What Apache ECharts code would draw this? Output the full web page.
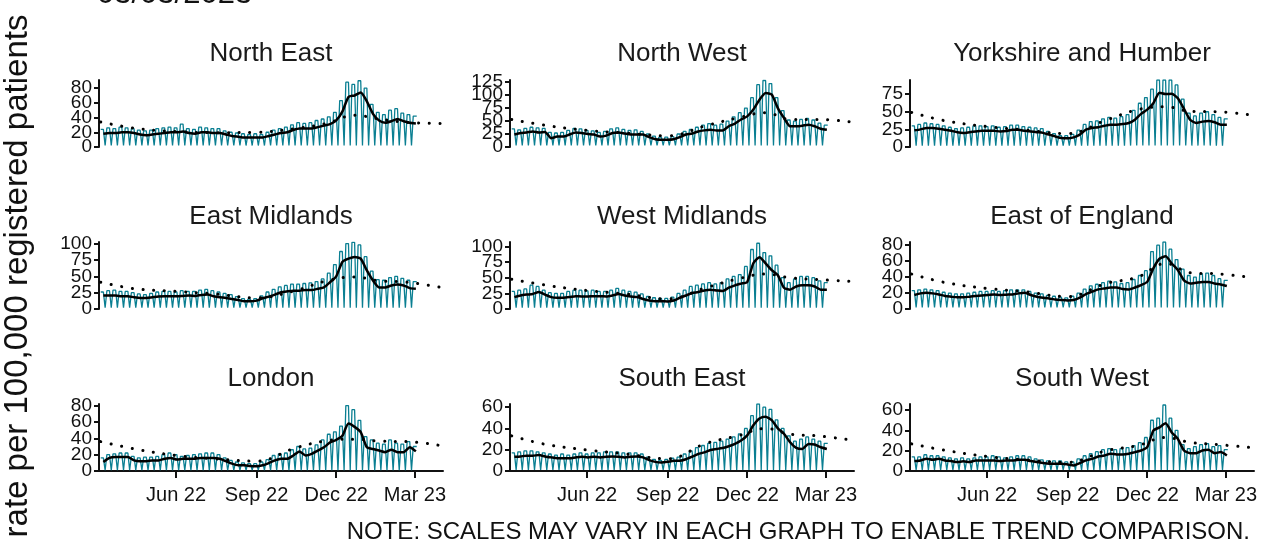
<!DOCTYPE html>
<html lang="en">
<head>
<meta charset="utf-8">
<title>rate per 100,000 registered patients</title>
<script src="https://cdn.jsdelivr.net/npm/echarts@6/dist/echarts.min.js"></script>
<style>
    html, body { margin: 0; padding: 0; background: #fff; }
    #main { width: 1262px; height: 542px; }
</style>
</head>
<body>
<div id="main"></div>

<script type="text/javascript">
    // panel order: left to right, top to bottom
    var regions = ['North East', 'North West', 'Yorkshire and Humber',
        'East Midlands', 'West Midlands', 'East of England',
        'London', 'South East', 'South West'];

    // weekday rate for each week (weeks start Mon 7 Mar 2022), weekend days sit near zero
    var neWeekday = [24,26,25,27,26,25, 23,22,23,25,26,27, 26,31,25,24,27,26, 25,25,22,20,19,18, 17,18,17,20,23,25, 27,30,33,32,33,36, 38,41,47,63,88,85, 90,80,58,47,44,50, 52,46,44,42];
    var nwWeekday = [35,33,36,38,37,36, 28,27,28,32,36,35, 32,31,28,30,35,37, 34,32,33,30,25,21, 19,19,20,25,30,34, 38,42,45,42,44,50, 58,66,75,95,120,128, 122,95,70,52,50,53, 55,52,46,42];
    var yhWeekday = [30,32,34,33,32,30, 28,26,27,28,30,30, 29,30,28,29,31,31, 29,28,27,26,22,19, 16,16,18,24,32,36, 37,40,42,41,43,46, 52,62,70,82,95,95, 95,88,68,48,44,48, 50,46,42,40];
    var emWeekday = [26,28,29,27,27,25, 23,22,24,26,27,27, 26,28,27,27,29,30, 28,26,24,22,19,16, 15,16,20,26,30,34, 36,38,38,39,40,42, 46,55,68,88,100,102, 98,80,58,45,44,48, 50,47,44,42];
    var wmWeekday = [28,30,32,38,36,30, 26,25,25,28,30,30, 29,30,28,28,30,33, 30,28,27,24,20,18, 17,17,19,25,30,36, 38,40,42,40,42,48, 52,55,68,95,105,90, 85,70,50,42,48,52, 52,50,45,42];
    var eeWeekday = [23,24,25,24,23,21, 20,19,19,20,21,22, 22,23,22,23,24,24, 24,22,20,19,17,16, 15,14,16,20,25,29, 31,33,35,34,32,33, 37,42,48,72,80,84, 75,62,50,42,40,44, 45,42,38,36];
    var lnWeekday = [16,20,21,22,22,18, 16,17,17,18,20,22, 20,18,19,20,21,22, 22,20,16,13,11,10, 9,9,11,14,19,21, 22,26,30,27,28,32, 38,45,48,55,80,75, 62,42,38,34,33,38, 34,33,36,30];
    var seWeekday = [17,18,19,19,18,17, 16,15,16,15,16,17, 16,17,17,18,18,18, 17,17,17,16,13,11, 10,11,12,13,16,19, 22,24,26,27,28,30, 32,35,40,52,63,60, 58,48,40,33,28,30, 32,30,28,26];
    var swWeekday = [14,14,16,15,15,14, 13,12,13,12,13,14, 14,15,14,13,14,15, 15,14,12,11,10,10, 10,9,9,12,15,17, 19,21,22,21,22,23, 25,28,33,50,52,65, 52,40,26,22,24,26, 27,24,25,21];
    var weekendRates = [2, 3, 2, 2, 2, 2, 1, 1, 1];

    // 7 day average, one value per week
    var neAverage = [18,19,19,20,20,19, 17,16,17,18,19,20, 20,21,19,18,20,20, 19,19,17,15,14,13, 13,13,13,15,17,19, 20,23,25,25,25,27, 29,31,36,48,68,70, 74,62,45,36,33,35, 38,35,33,32];
    var nwAverage = [24,27,28,30,28,29, 17,20,20,24,28,27, 25,24,20,22,27,28, 26,24,24,24,19,15, 14,14,15,19,24,26, 30,32,33,32,32,40, 45,53,59,72,91,104, 101,75,56,40,40,41, 43,40,35,33];
    var yhAverage = [23.6,25,27,27,26,24.5, 23,21,20,21,22,23, 23,23,22,22.6,24.5,24.5, 23,22,21,20,17.5,15, 12.7,12.3,13.7,17.5,24.5,27, 28,30,31.6,31.6,32.5,34, 38.7,47,53,62,77,75, 75.5,69,54,38.7,34,36, 37,35,31.6,31.6];
    var emAverage = [20.5,20.5,20.5,19.5,19.5,18, 17,17,18,19,19.5,19.5, 19.5,20,20.5,20,21.5,22, 19.5,18,17,15.4,13.8,11.8, 11.8,12.8,16.4,19,22,25.6, 27,28,28,29,29,31, 33,41,50,72,77,79.5, 77,59,43.6,33,33,36, 37.4,36,32,31];
    var wmAverage = [19,21.6,23,24,27,23, 19,18,18,19,20.5,20, 20,20.5,20.5,20,21.6,24, 21.6,20,19,16,13.5,12.4, 12.4,12,13.5,18,21.6,25.4, 27,29.7,30.8,29.7,28.6,34, 37.8,40.5,43,73,82.7,73, 62,54,34,30.8,36,37.8, 37.8,36,30.8,30.8];
    var eeAverage = [17.5,19.6,20.4,19.6,18.3,16.3, 15.4,14.6,14.6,15.4,16.3,17, 17.5,18.3,17.5,18,18.3,19.6, 20.4,17.5,15.4,14.2,13.3,12, 11.3,10.8,11.3,14.2,18.8,21.7, 24.6,25.8,27,27,25,24.6, 27,30,34,51,63,66, 57,48.8,36,32,33,34, 34,32,30.8,28.8];
    var lnAverage = [11,16,17,17,17,13, 12,12,13,13,15,16, 14,15,15,15,16,16, 16,15,12,9,7,7, 6,5.7,7,9.7,13,15, 15,19,24,19,21,25, 29,35,38,43,58,54, 47.5,29,27,25,23,26, 23,23,29,24];
    var seAverage = [13.4,13.7,14.4,14.4,15,13.7, 12.8,12,12,12,12.8,13.4, 12.8,13.4,12.8,13.4,13.7,13.4, 12.8,13.4,13.7,12.8,10.2,8.6, 8,8.6,9.6,9.6,11,13.4, 16,17.5,19.8,20.7,21.7,23.3, 25.5,28.7,33.5,43,49.4,51, 47.8,40,35,27,21.7,20.7, 25.5,24.9,22.3,20.7];
    var swAverage = [9.8,10.4,12,11,12,10.4, 9.8,8.8,9.5,8.8,10.4,10.4, 10.4,10.4,9.8,10.4,10.4,11, 11,9.8,8.8,7.8,7.2,7.2, 7.2,6.5,5.5,7.8,10.4,12, 14.3,15.3,17,16.3,16.3,17, 18.6,20.2,23.5,39.8,43,47, 38,31.6,20.2,17.6,17.6,20.2, 20.9,17.6,18.6,15.3];

    // dotted trend line
    var trendDates = ['2022-03-07','2022-04-15','2022-06-01','2022-07-15','2022-09-01','2022-10-15','2022-11-20','2022-12-22','2023-01-20','2023-02-20','2023-03-31'];
    var neTrend = [34, 25.5, 21, 19.5, 20, 25, 32, 43, 38, 33.5, 32];
    var nwTrend = [53, 41.5, 32, 27, 21.5, 41, 56, 66, 53, 53, 48];
    var yhTrend = [49, 37, 29, 24, 19, 38, 53, 57, 50.5, 50, 45];
    var emTrend = [41, 31, 27, 23, 17, 28, 43, 49, 43, 41, 33];
    var wmTrend = [47.6, 38, 29.5, 24, 16, 34, 48, 56, 49.7, 47, 44];
    var eeTrend = [43.8, 33, 25.8, 21.7, 15.5, 32, 40, 57, 45.4, 44, 39.5];
    var lnTrend = [36, 27, 19, 15, 12, 28, 37, 39, 36.5, 36, 31];
    var seTrend = [33, 25, 19.8, 16, 11.5, 26, 33, 40, 34.5, 33, 29];
    var swTrend = [26.7, 20.2, 14.3, 11, 8.5, 20, 25, 33, 28, 26, 23];

    // axis ticks
    var yTicks = [[0,20,40,60,80], [0,25,50,75,100,125], [0,25,50,75],
        [0,25,50,75,100], [0,25,50,75,100], [0,20,40,60,80],
        [0,20,40,60,80], [0,20,40,60], [0,20,40,60]];
    var yMax = [91, 129, 95, 102.5, 107, 84, 82, 63, 66];
    var xTickDates = ['2022-06-01', '2022-09-01', '2022-12-01', '2023-03-01'];
    var monthNames = ['Jan','Feb','Mar','Apr','May','Jun','Jul','Aug','Sep','Oct','Nov','Dec'];

    var weekdays = [neWeekday, nwWeekday, yhWeekday, emWeekday, wmWeekday, eeWeekday, lnWeekday, seWeekday, swWeekday];
    var averages = [neAverage, nwAverage, yhAverage, emAverage, wmAverage, eeAverage, lnAverage, seAverage, swAverage];
    var trends = [neTrend, nwTrend, yhTrend, emTrend, wmTrend, eeTrend, lnTrend, seTrend, swTrend];

    var DAY = 86400000;
    var start = Date.UTC(2022, 2, 7);
    function toTime(s) {
        var p = s.split('-');
        return Date.UTC(+p[0], +p[1] - 1, +p[2]);
    }

    function dailyPoints(weekday, weekend) {
        var pts = [];
        for (var w = 0; w < weekday.length; w++) {
            for (var d = 0; d < 7; d++) {
                if (w === weekday.length - 1 && d > 4) break;
                pts.push([start + (w * 7 + d) * DAY, d < 5 ? weekday[w] : weekend]);
            }
        }
        return pts;
    }

    var font = '"Liberation Sans", Arial, sans-serif';
    var teal = '#0a7f92';
    var ink = '#111';
    var colLeft = [99, 510, 910];
    var rowTop = [80, 242, 404];
    var panelW = 344, panelH = 67;
    var xMin = Date.UTC(2022, 2, 5), xMax = Date.UTC(2023, 3, 2);
    var xTickTimes = xTickDates.map(toTime);

    // the labels overlap in the original, so every other tick goes on a twin axis
    // (echarts would otherwise drop the crowded ones)
    function yAxisFor(i, part, withLine) {
        var vals = yTicks[i].filter(function (v, k) { return k % 2 === part; });
        return {
            gridIndex: i, type: 'value', min: 0, max: yMax[i], position: 'left',
            splitLine: {show: false},
            axisLine: {show: withLine, onZero: false, lineStyle: {color: ink, width: 2}},
            axisTick: {show: true, length: 5, lineStyle: {color: ink, width: 2}, customValues: vals},
            axisLabel: {fontSize: 19, fontFamily: font, color: ink, margin: 7, hideOverlap: false,
                showMinLabel: true, showMaxLabel: true, customValues: vals}
        };
    }

    var grids = [], xAxes = [], yAxes = [], series = [], graphics = [];

    for (var i = 0; i < regions.length; i++) {
        var col = i % 3, row = Math.floor(i / 3);
        var bottomRow = row === 2;
        grids.push({left: colLeft[col], top: rowTop[row], width: panelW, height: panelH, outerBoundsMode: 'none'});
        xAxes.push({
            gridIndex: i, type: 'value', min: xMin, max: xMax,
            splitLine: {show: false},
            axisLine: {show: bottomRow, onZero: false, lineStyle: {color: ink, width: 2}},
            axisTick: {show: bottomRow, length: 7, lineStyle: {color: ink, width: 2}, customValues: xTickTimes},
            axisLabel: {show: bottomRow, fontSize: 20, fontFamily: font, color: ink, margin: 14,
                showMinLabel: true, showMaxLabel: true,
                customValues: xTickTimes,
                formatter: function (v) {
                    var d = new Date(v);
                    return monthNames[d.getUTCMonth()] + ' ' + String(d.getUTCFullYear()).slice(2);
                }}
        });
        yAxes.push(yAxisFor(i, 0, true));
        yAxes.push(yAxisFor(i, 1, false));
        var yi = i * 2;
        series.push({
            type: 'line', xAxisIndex: i, yAxisIndex: yi, silent: true, showSymbol: false, z: 1,
            data: dailyPoints(weekdays[i], weekendRates[i]),
            lineStyle: {color: teal, width: 1.3}
        });
        series.push({
            type: 'line', xAxisIndex: i, yAxisIndex: yi, silent: true, showSymbol: false, z: 2,
            smooth: 0.4,
            data: trendDates.map(function (d, k) { return [toTime(d), this[k]]; }, trends[i]),
            lineStyle: {color: '#000', width: 3, type: [0.1, 10.6], cap: 'round'}
        });
        series.push({
            type: 'line', xAxisIndex: i, yAxisIndex: yi, silent: true, showSymbol: false, z: 3,
            smooth: 0.2,
            data: averages[i].map(function (v, w) { return [start + (w * 7 + 3) * DAY, v]; }),
            lineStyle: {color: '#000', width: 2.5}
        });
        graphics.push({
            type: 'text', x: colLeft[col] + panelW / 2, y: [54, 216.5, 379][row],
            style: {text: regions[i], font: '26px ' + font, fill: '#1a1a1a', align: 'center', verticalAlign: 'middle'}
        });
    }

    graphics.push({
        type: 'text', x: 18, y: 276, rotation: Math.PI / 2,
        style: {text: 'rate per 100,000 registered patients', font: '33px ' + font, fill: ink,
            align: 'center', verticalAlign: 'middle'}
    });
    graphics.push({
        type: 'text', x: 97, y: -6,
        style: {text: '03/03/2023', font: '31px ' + font, fill: ink, align: 'left', verticalAlign: 'middle'}
    });
    graphics.push({
        type: 'text', x: 1250, y: 532,
        style: {text: 'NOTE: SCALES MAY VARY IN EACH GRAPH TO ENABLE TREND COMPARISON.', font: '24px ' + font,
            fill: ink, align: 'right', verticalAlign: 'middle'}
    });

    var myChart = echarts.init(document.getElementById('main'));
    myChart.setOption({
        animation: false,
        backgroundColor: '#fff',
        grid: grids,
        xAxis: xAxes,
        yAxis: yAxes,
        series: series,
        graphic: graphics
    });
</script>
</body>
</html>
